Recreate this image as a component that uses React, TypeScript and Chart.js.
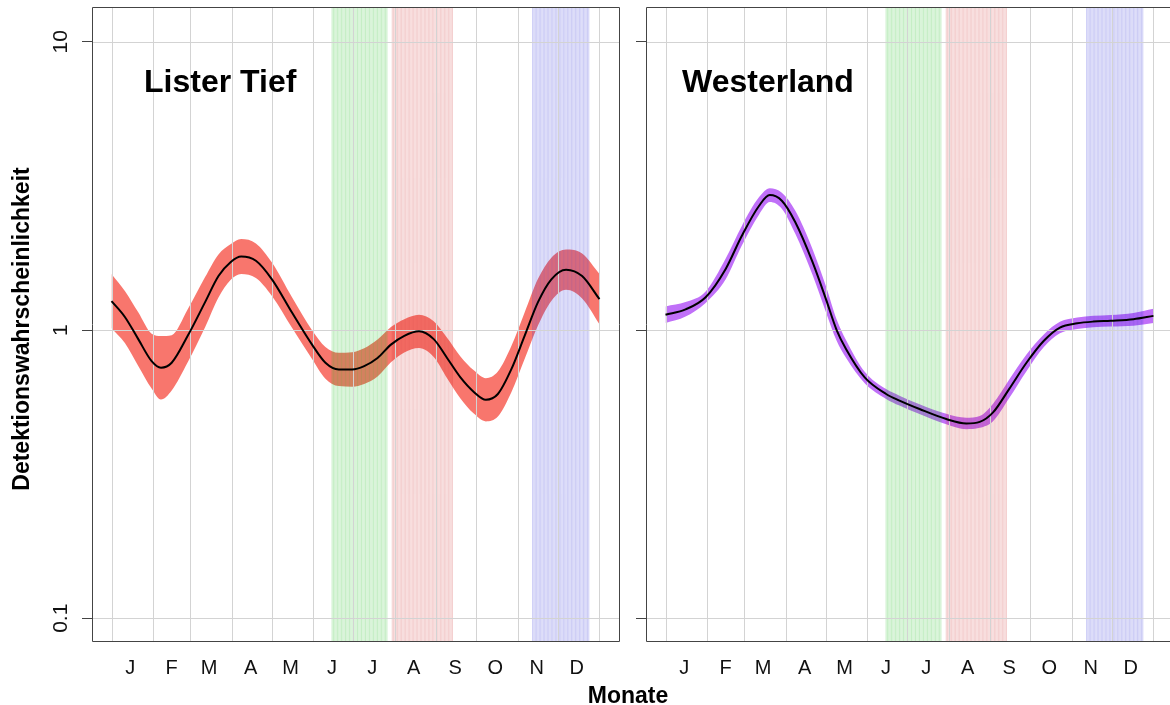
import React, { useEffect, useRef } from 'react';
import { Chart, registerables } from 'chart.js';

Chart.register(...registerables);

// ---------------- data ----------------
const monthLabels = ['J', 'F', 'M', 'A', 'M', 'J', 'J', 'A', 'S', 'O', 'N', 'D'];
const monthStarts = [0, 31, 59, 90, 120, 151, 181, 212, 243, 273, 304, 334, 365];
const monthMids = [14, 45, 73, 104, 134, 165, 195, 226, 257, 287, 318, 348];
const yTickValues = [0.1, 1, 10];
const yTickLabels = ['0.1', '1', '10'];

const bandStarts = [165, 210, 315];
const bandEnds = [206, 255, 357];

const listerDays = [0, 10, 20, 30, 37, 45, 57, 70, 80, 89, 97, 108, 120, 135, 150, 160, 170, 180, 189, 199, 209, 219, 230, 241, 251, 261, 271, 280, 289, 299, 309, 319, 329, 340, 352, 365];
const listerMean = [1.26, 1.11, 0.93, 0.78, 0.74, 0.77, 0.955, 1.25, 1.54, 1.72, 1.8, 1.74, 1.5, 1.15, 0.89, 0.77, 0.73, 0.73, 0.75, 0.8, 0.89, 0.955, 0.99, 0.93, 0.8, 0.685, 0.61, 0.573, 0.6, 0.73, 0.955, 1.25, 1.5, 1.62, 1.54, 1.28];
const listerUpper = [1.565, 1.366, 1.152, 0.971, 0.953, 0.96, 1.18, 1.527, 1.83, 1.984, 2.071, 1.998, 1.714, 1.299, 0.999, 0.874, 0.834, 0.838, 0.865, 0.927, 1.024, 1.091, 1.131, 1.073, 0.94, 0.81, 0.725, 0.681, 0.718, 0.878, 1.151, 1.506, 1.783, 1.903, 1.843, 1.564];
const listerLower = [1.015, 0.902, 0.751, 0.627, 0.574, 0.617, 0.773, 1.023, 1.296, 1.491, 1.564, 1.515, 1.312, 1.018, 0.793, 0.678, 0.639, 0.636, 0.65, 0.69, 0.773, 0.836, 0.866, 0.806, 0.681, 0.579, 0.513, 0.482, 0.501, 0.607, 0.793, 1.037, 1.262, 1.379, 1.287, 1.048];

const westerDays = [0, 15, 30, 45, 57, 70, 78, 87, 97, 110, 120, 128, 135, 149, 165, 175, 190, 210, 225, 235, 245, 257, 270, 283, 295, 308, 320, 333, 350, 365];
const westerMean = [1.13, 1.18, 1.3, 1.63, 2.12, 2.7, 2.94, 2.81, 2.37, 1.72, 1.28, 1.0, 0.86, 0.685, 0.6, 0.569, 0.532, 0.491, 0.474, 0.48, 0.518, 0.624, 0.77, 0.918, 1.02, 1.055, 1.07, 1.077, 1.09, 1.12];
const westerUpper = [1.208, 1.25, 1.361, 1.771, 2.293, 2.893, 3.107, 2.997, 2.599, 1.908, 1.42, 1.089, 0.924, 0.717, 0.624, 0.592, 0.553, 0.512, 0.496, 0.503, 0.555, 0.672, 0.823, 0.966, 1.068, 1.105, 1.12, 1.128, 1.147, 1.186];
const westerLower = [1.057, 1.114, 1.242, 1.5, 1.96, 2.52, 2.782, 2.635, 2.161, 1.551, 1.154, 0.918, 0.801, 0.654, 0.577, 0.547, 0.511, 0.471, 0.453, 0.458, 0.483, 0.58, 0.72, 0.873, 0.974, 1.008, 1.022, 1.029, 1.036, 1.058];

// ---------------- styles ----------------
const FONT = '"Liberation Sans", Arial, Helvetica, sans-serif';
const BAND_COLORS = ['rgba(30,190,30,0.26)', 'rgba(205,40,40,0.24)', 'rgba(50,50,215,0.26)'];
const GRID = '#d3d3d3';
const BOX = '#444444';
const TEXT = '#111111';
const X_MIN = -14.6;
const X_MAX = 379.6;
const Y_MIN = Math.pow(10, -1.079);
const Y_MAX = Math.pow(10, 1.121);

type PanelCfg = {
  title: string;
  titleX: number;
  days: number[];
  mean: number[];
  lower: number[];
  upper: number[];
  ribbon: string;
  yWidth: number;
  padRight: number;
  primary: boolean;
};

function buildChart(canvas: HTMLCanvasElement, cfg: PanelCfg) {
  const toXY = (arr: number[]) => cfg.days.map((d, i) => ({ x: d, y: arr[i] }));

  const plugin = {
    id: 'panelDecor',
    afterDatasetDraw(chart: any, args: any) {
      if (args.index !== 0) return;
      const { ctx, chartArea: a } = chart;
      const x = chart.scales.x;
      const y = chart.scales.y;
      ctx.save();
      ctx.beginPath();
      ctx.rect(a.left, a.top, a.right - a.left, a.bottom - a.top);
      ctx.clip();
      // seasonal bands drawn as many thin vertical lines
      ctx.lineWidth = 1;
      bandStarts.forEach((s, i) => {
        ctx.strokeStyle = BAND_COLORS[i];
        for (let d = s; d <= bandEnds[i]; d++) {
          const px = x.getPixelForValue(d);
          ctx.beginPath();
          ctx.moveTo(px, a.top);
          ctx.lineTo(px, a.bottom);
          ctx.stroke();
        }
      });
      // grid
      ctx.strokeStyle = GRID;
      ctx.lineWidth = 1;
      monthStarts.forEach((d) => {
        const px = Math.round(x.getPixelForValue(d)) + 0.5;
        ctx.beginPath();
        ctx.moveTo(px, a.top);
        ctx.lineTo(px, a.bottom);
        ctx.stroke();
      });
      yTickValues.forEach((v) => {
        const py = Math.round(y.getPixelForValue(v)) + 0.5;
        ctx.beginPath();
        ctx.moveTo(a.left, py);
        ctx.lineTo(a.right, py);
        ctx.stroke();
      });
      ctx.restore();
    },
    afterDraw(chart: any) {
      const { ctx, chartArea: a } = chart;
      const y = chart.scales.y;
      ctx.save();
      ctx.strokeStyle = BOX;
      ctx.lineWidth = 1;
      const l = Math.round(a.left) + 0.5;
      const t = Math.round(a.top) + 0.5;
      const r = Math.round(a.right) + 0.5;
      const b = Math.round(a.bottom) + 0.5;
      ctx.beginPath();
      ctx.moveTo(r, t);
      ctx.lineTo(l, t);
      ctx.lineTo(l, b);
      ctx.lineTo(r, b);
      if (cfg.primary) ctx.lineTo(r, t);
      ctx.stroke();
      // panel title
      ctx.fillStyle = '#000';
      ctx.font = `bold 32px ${FONT}`;
      ctx.textAlign = 'left';
      ctx.textBaseline = 'alphabetic';
      ctx.fillText(cfg.title, cfg.titleX, 92);
      if (cfg.primary) {
        ctx.fillStyle = TEXT;
        ctx.font = `21px ${FONT}`;
        ctx.textAlign = 'center';
        ctx.textBaseline = 'middle';
        yTickValues.forEach((v, i) => {
          const py = y.getPixelForValue(v);
          ctx.save();
          ctx.translate(61, py);
          ctx.rotate(-Math.PI / 2);
          ctx.fillText(yTickLabels[i], 0, 0);
          ctx.restore();
        });
        ctx.fillStyle = '#000';
        ctx.font = `bold 23px ${FONT}`;
        ctx.save();
        ctx.translate(23, (a.top + a.bottom) / 2 + 5);
        ctx.rotate(-Math.PI / 2);
        ctx.fillText('Detektionswahrscheinlichkeit', 0, 0);
        ctx.restore();
        ctx.font = `bold 23px ${FONT}`;
        ctx.textBaseline = 'alphabetic';
        ctx.fillText('Monate', 628, 703);
      }
      ctx.restore();
    },
  };

  return new Chart(canvas, {
    type: 'line',
    data: {
      datasets: [
        {
          data: toXY(cfg.upper),
          fill: '+1',
          backgroundColor: cfg.ribbon,
          borderColor: 'transparent',
          borderWidth: 0,
          pointRadius: 0,
          order: 2,
          cubicInterpolationMode: 'monotone',
        },
        {
          data: toXY(cfg.lower),
          fill: false,
          borderColor: 'transparent',
          borderWidth: 0,
          pointRadius: 0,
          order: 3,
          cubicInterpolationMode: 'monotone',
        },
        {
          data: toXY(cfg.mean),
          fill: false,
          borderColor: '#000',
          borderWidth: 2,
          pointRadius: 0,
          order: 1,
          cubicInterpolationMode: 'monotone',
        },
      ],
    } as any,
    options: {
      responsive: false,
      maintainAspectRatio: false,
      animation: false,
      events: [],
      layout: { padding: { top: 7, right: cfg.padRight, left: 0, bottom: 0 } },
      plugins: {
        legend: { display: false },
        tooltip: { enabled: false },
        title: { display: false },
      },
      scales: {
        x: {
          type: 'linear',
          min: X_MIN,
          max: X_MAX,
          afterBuildTicks: (s: any) => {
            s.ticks = monthMids.map((v) => ({ value: v }));
          },
          afterFit: (s: any) => {
            s.height = 64;
          },
          ticks: {
            autoSkip: false,
            maxRotation: 0,
            minRotation: 0,
            padding: 15,
            color: TEXT,
            font: { family: FONT, size: 20 },
            callback: (_v: any, i: number) => monthLabels[i],
          },
          grid: { display: false, drawTicks: false },
          border: { display: false },
        },
        y: {
          type: 'logarithmic',
          min: Y_MIN,
          max: Y_MAX,
          afterBuildTicks: (s: any) => {
            s.ticks = yTickValues.map((v) => ({ value: v }));
          },
          afterFit: (s: any) => {
            s.width = cfg.yWidth;
          },
          ticks: { display: false },
          grid: {
            display: true,
            drawOnChartArea: false,
            drawTicks: true,
            tickLength: 10,
            color: BOX,
            tickColor: BOX,
          },
          border: { display: false },
        },
      },
    } as any,
    plugins: [plugin],
  });
}

export default function App() {
  const leftRef = useRef<HTMLCanvasElement>(null);
  const rightRef = useRef<HTMLCanvasElement>(null);

  useEffect(() => {
    const left = buildChart(leftRef.current!, {
      title: 'Lister Tief',
      titleX: 144,
      days: listerDays,
      mean: listerMean,
      lower: listerLower,
      upper: listerUpper,
      ribbon: '#F8766D',
      yWidth: 92,
      padRight: 81,
      primary: true,
    });
    const right = buildChart(rightRef.current!, {
      title: 'Westerland',
      titleX: 62,
      days: westerDays,
      mean: westerMean,
      lower: westerLower,
      upper: westerUpper,
      ribbon: 'rgb(192,112,248)',
      yWidth: 26,
      padRight: 7,
      primary: false,
    });
    return () => {
      left.destroy();
      right.destroy();
    };
  }, []);

  return (
    <div
      style={{
        position: 'absolute',
        left: 0,
        top: 0,
        width: 1170,
        height: 705,
        overflow: 'hidden',
        background: '#fff',
      }}
    >
      <canvas ref={leftRef} width={700} height={705} style={{ position: 'absolute', left: 0, top: 0, width: 700, height: 705 }} />
      <canvas ref={rightRef} width={560} height={705} style={{ position: 'absolute', left: 620, top: 0, width: 560, height: 705 }} />
    </div>
  );
}
